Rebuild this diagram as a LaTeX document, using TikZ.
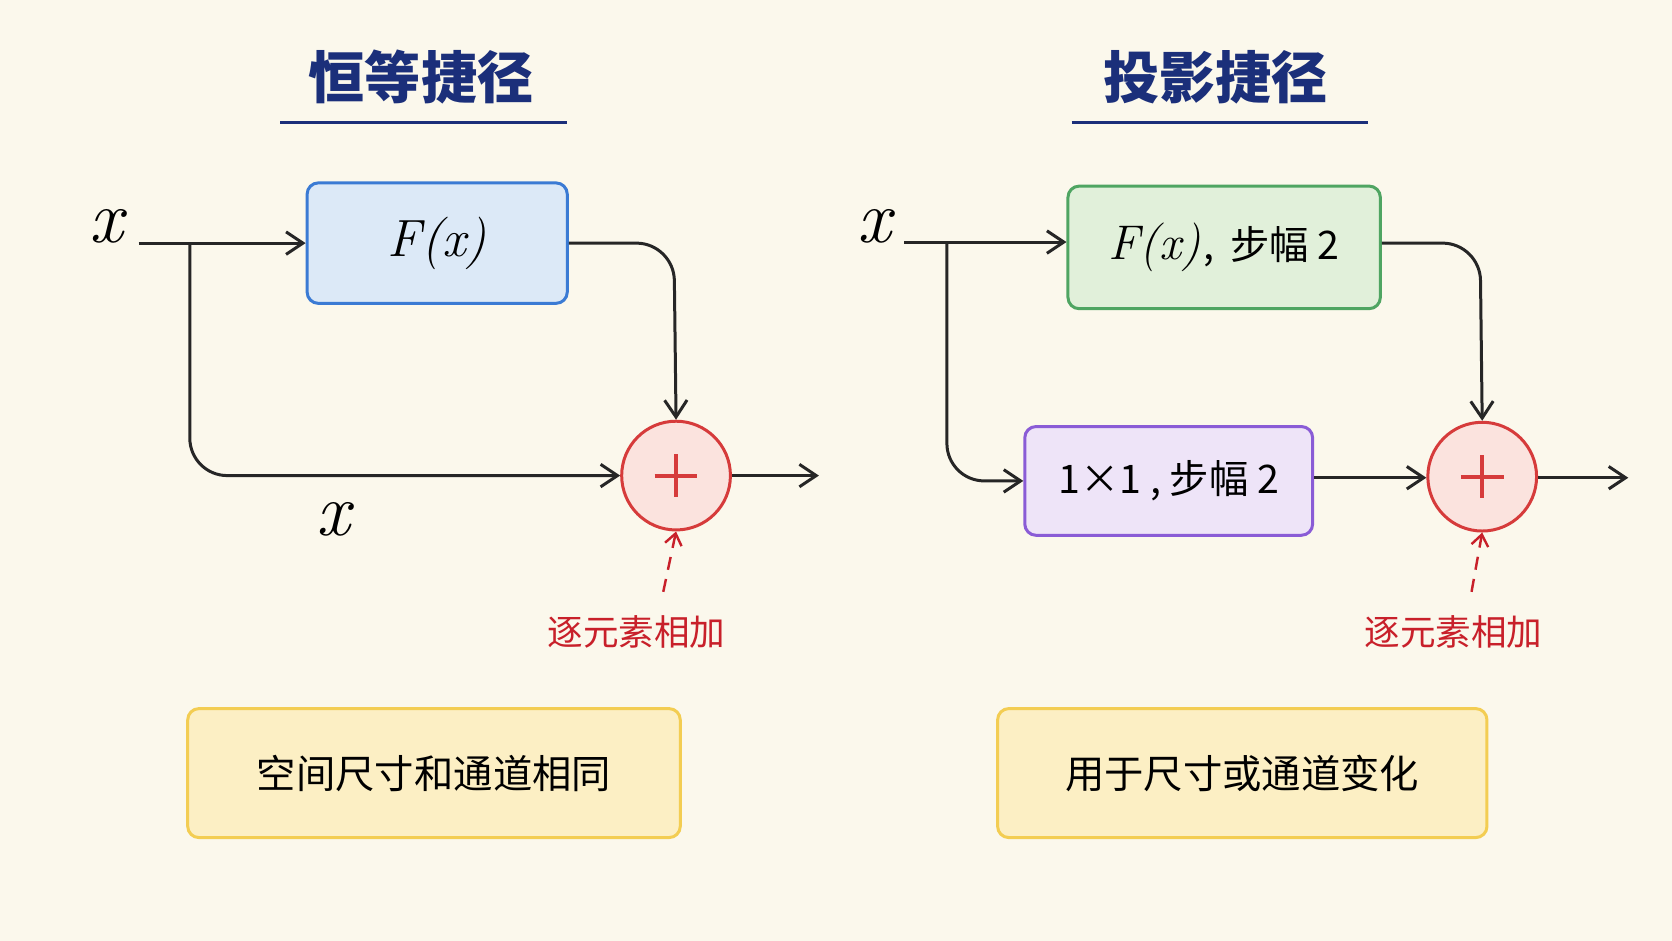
\documentclass[tikz,border=0pt]{standalone}
\usepackage{fontspec}
\newfontfamily\cjk{Noto Sans CJK SC}
\usetikzlibrary{arrows.meta}
\definecolor{bg}{HTML}{FBF8EC}
\definecolor{navy}{HTML}{1B2F7A}
\definecolor{bblue}{HTML}{3B7BD4}\definecolor{fblue}{HTML}{DCE9F7}
\definecolor{bgreen}{HTML}{4FA562}\definecolor{fgreen}{HTML}{E1F0DA}
\definecolor{bpurp}{HTML}{8A5CD6}\definecolor{fpurp}{HTML}{EEE4F8}
\definecolor{bred}{HTML}{D63B3B}\definecolor{fred}{HTML}{FBE3DE}
\definecolor{byel}{HTML}{F3CD52}\definecolor{fyel}{HTML}{FCEFC4}
\definecolor{tred}{HTML}{C8202A}
\begin{document}
\begin{tikzpicture}[x=0.02cm,y=-0.02cm,
  box/.style={draw,line width=1.6pt,rounded corners=6pt,inner sep=0pt},
  arr2/.style={-{Straight Barb[length=9pt,width=12pt]},line width=1.6pt,rounded corners=20pt,black!85},
  dsh/.style={tred,dash pattern=on 7pt off 5pt,line width=1.3pt,-{Straight Barb[length=6pt,width=9pt]}},
  sumc/.style={circle,draw=bred,fill=fred,line width=1.6pt,minimum size=2.04cm,inner sep=0pt},
  ttl/.style={font=\cjk\bfseries\fontsize{30}{30}\selectfont,text=navy},
  red/.style={font=\cjk\fontsize{19}{19}\selectfont,text=tred},
  mx/.style={font=\itshape\fontsize{40}{40}\selectfont}]
\fill[bg] (0,0) rectangle (1568,882);
\useasboundingbox (0,0) rectangle (1568,882);
% titles
\node[ttl] (t1) at (395,72) {恒等捷径};
\draw[navy,line width=1.8pt] (263,115) -- (532,115);
\node[ttl] (t2) at (1140,72) {投影捷径};
\draw[navy,line width=1.8pt] (1005,115) -- (1283,115);
% left
\node[mx] (x1) at (100,212) {x};
\node[box,draw=bblue,fill=fblue,minimum width=4.88cm,minimum height=2.26cm] (F1) at (410,228) {\fontsize{28}{28}\selectfont\itshape F(x)};
\node[sumc] (s1) at (634,446) {};
\draw[bred,line width=2.2pt] (634,426)--(634,466) (614,446)--(654,446);
\coordinate (a1) at (130,228);
\draw[arr2] (a1) -- (F1.west);
\draw[arr2] (F1.east) -- (632,228) -- (s1.north);
\draw[arr2] (178,228) -- (178,446) -- (s1.west);
\coordinate (o1) at (768,446);
\draw[arr2] (s1.east) -- (o1);
\node[mx] (x1b) at (313,487) {x};
\node[red] (r1) at (597,593) {逐元素相加};
\draw[dsh] (622,555) -- (s1.south);
\node[box,draw=byel,fill=fyel,minimum width=9.24cm,minimum height=2.42cm,font=\cjk\fontsize{21}{21}\selectfont] (y1) at (407,725) {空间尺寸和通道相同};
% right
\node[mx] (x2) at (820,212) {x};
\node[box,draw=bgreen,fill=fgreen,minimum width=5.86cm,minimum height=2.3cm] (F2) at (1148,232) {{\fontsize{26}{26}\selectfont\itshape F(x)}\,{\cjk\fontsize{21}{21}\selectfont ,\, 步幅 2}};
\node[box,draw=bpurp,fill=fpurp,minimum width=5.4cm,minimum height=2.04cm,font=\cjk\fontsize{21}{21}\selectfont] (P2) at (1096,451) {1×1 , 步幅 2};
\node[sumc] (s2) at (1390,447) {};
\draw[bred,line width=2.2pt] (1390,427)--(1390,467) (1370,447)--(1410,447);
\coordinate (a2) at (848,227);
\draw[arr2] (a2) -- (F2.west |- 0,227);
\draw[arr2] (F2.east |- 0,228) -- (1388,228) -- (s2.north);
\draw[arr2] (888,227) -- (888,451) -- (P2.west);
\draw[arr2] (P2.east |- 0,448) -- (s2.west |- 0,448);
\coordinate (o2) at (1527,448);
\draw[arr2] (s2.east |- 0,448) -- (o2);
\node[red] (r2) at (1363,593) {逐元素相加};
\draw[dsh] (1380,555) -- (s2.south);
\node[box,draw=byel,fill=fyel,minimum width=9.18cm,minimum height=2.42cm,font=\cjk\fontsize{21}{21}\selectfont] (y2) at (1165,725) {用于尺寸或通道变化};
\end{tikzpicture}
\end{document}
